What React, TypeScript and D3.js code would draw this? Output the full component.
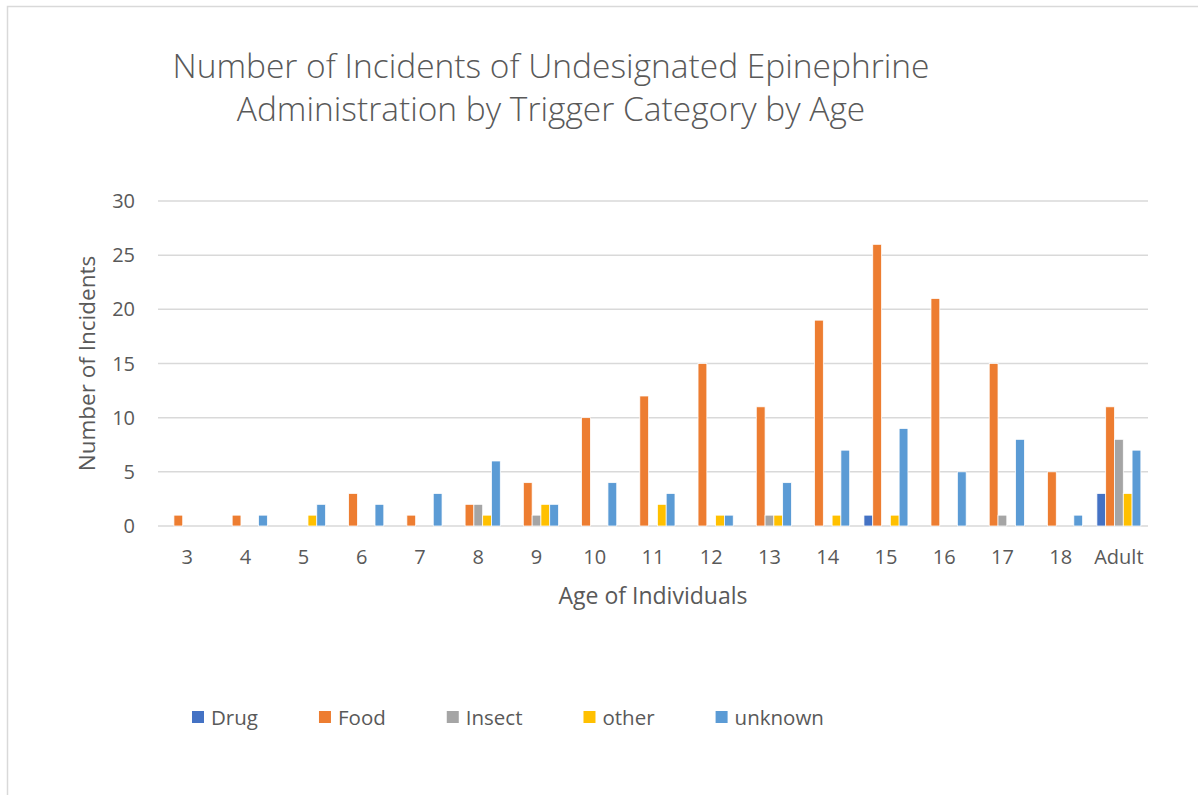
import React, { useEffect, useRef } from "react";
import * as d3 from "d3";

const categories = ["3", "4", "5", "6", "7", "8", "9", "10", "11", "12", "13", "14", "15", "16", "17", "18", "Adult"];
const seriesNames = ["Drug", "Food", "Insect", "other", "unknown"];
const drug = [0, 0, 0, 0, 0, 0, 0, 0, 0, 0, 0, 0, 1, 0, 0, 0, 3];
const food = [1, 1, 0, 3, 1, 2, 4, 10, 12, 15, 11, 19, 26, 21, 15, 5, 11];
const insect = [0, 0, 0, 0, 0, 2, 1, 0, 0, 0, 1, 0, 0, 0, 1, 0, 8];
const other = [0, 0, 1, 0, 0, 1, 2, 0, 2, 1, 1, 1, 1, 0, 0, 0, 3];
const unknown = [0, 1, 2, 2, 3, 6, 2, 4, 3, 1, 4, 7, 9, 5, 8, 1, 7];
const seriesColors = ["#4472C4", "#ED7D31", "#A5A5A5", "#FFC000", "#5B9BD5"];
const yTicks = [0, 5, 10, 15, 20, 25, 30];
const titleLines = ["Number of Incidents of Undesignated Epinephrine", "Administration by Trigger Category by Age"];

const W = 1198;
const H = 795;
const FONT = "'Open Sans', sans-serif";
const TEXT = "#595959";
const GRID = "#D9D9D9";

export default function App() {
  const ref = useRef<SVGSVGElement | null>(null);

  useEffect(() => {
    const svg = d3.select(ref.current);
    svg.selectAll("*").remove();

    const plot = { left: 158, right: 1148, top: 201, bottom: 526 };
    const values = [drug, food, insect, other, unknown];

    // chart border
    svg.append("rect")
      .attr("x", 7.5).attr("y", 6.5)
      .attr("width", W + 20).attr("height", H + 20)
      .attr("fill", "#fff").attr("stroke", GRID).attr("stroke-width", 1.5);

    // title
    const title = svg.append("text")
      .attr("text-anchor", "middle")
      .attr("font-family", FONT).attr("font-size", 33.5).attr("font-weight", 300)
      .attr("fill", TEXT);
    titleLines.forEach((t, i) => {
      title.append("tspan").attr("x", 551).attr("y", 78 + i * 43).text(t);
    });

    const x0 = d3.scaleBand<string>()
      .domain(categories)
      .range([plot.left, plot.right])
      .paddingInner(0.245)
      .paddingOuter(0.1225);
    const x1 = d3.scaleBand<string>()
      .domain(seriesNames)
      .range([0, x0.bandwidth()])
      .padding(0);
    const y = d3.scaleLinear().domain([0, 30]).range([plot.bottom, plot.top]);

    // gridlines
    svg.append("g").selectAll("line")
      .data(yTicks)
      .join("line")
      .attr("x1", plot.left).attr("x2", plot.right)
      .attr("y1", (d) => y(d)).attr("y2", (d) => y(d))
      .attr("stroke", GRID).attr("stroke-width", 1.5);

    // y tick labels
    svg.append("g").selectAll("text")
      .data(yTicks)
      .join("text")
      .attr("x", 135).attr("y", (d) => y(d))
      .attr("dy", "0.35em")
      .attr("text-anchor", "end")
      .attr("font-family", FONT).attr("font-size", 20)
      .attr("fill", TEXT)
      .text((d) => String(d));

    // x tick labels
    svg.append("g").selectAll("text")
      .data(categories)
      .join("text")
      .attr("x", (d) => (x0(d) as number) + x0.bandwidth() / 2)
      .attr("y", 564)
      .attr("text-anchor", "middle")
      .attr("font-family", FONT).attr("font-size", 20)
      .attr("fill", TEXT)
      .text((d) => d);

    // bars
    seriesNames.forEach((s, si) => {
      svg.append("g").selectAll("rect")
        .data(values[si].map((v, ci) => ({ v, c: categories[ci] })).filter((d) => d.v > 0))
        .join("rect")
        .attr("x", (d) => (x0(d.c) as number) + (x1(s) as number))
        .attr("width", x1.bandwidth())
        .attr("y", (d) => y(d.v))
        .attr("height", (d) => y(0) - y(d.v))
        .attr("fill", seriesColors[si])
        .attr("stroke", "#fff").attr("stroke-width", 0.75);
    });

    // axis titles
    svg.append("text")
      .attr("x", (plot.left + plot.right) / 2).attr("y", 604)
      .attr("text-anchor", "middle")
      .attr("font-family", FONT).attr("font-size", 23)
      .attr("fill", TEXT)
      .text("Age of Individuals");
    svg.append("text")
      .attr("transform", `translate(95, ${(plot.top + plot.bottom) / 2}) rotate(-90)`)
      .attr("text-anchor", "middle")
      .attr("font-family", FONT).attr("font-size", 22.5)
      .attr("fill", TEXT)
      .text("Number of Incidents");

    // legend
    const legend = svg.append("g");
    let lx = 192;
    seriesNames.forEach((s, si) => {
      legend.append("rect")
        .attr("x", lx).attr("y", 711)
        .attr("width", 12).attr("height", 12)
        .attr("fill", seriesColors[si]);
      const t = legend.append("text")
        .attr("x", lx + 19).attr("y", 725)
        .attr("font-family", FONT).attr("font-size", 20.5)
        .attr("fill", TEXT)
        .text(s);
      const w = (t.node() as SVGTextElement).getComputedTextLength();
      lx = lx + 19 + w + 61;
    });
  }, []);

  return (
    <div style={{ position: "absolute", left: 0, top: 0 }}>
      <svg ref={ref} width={W} height={H} style={{ display: "block" }} />
    </div>
  );
}
